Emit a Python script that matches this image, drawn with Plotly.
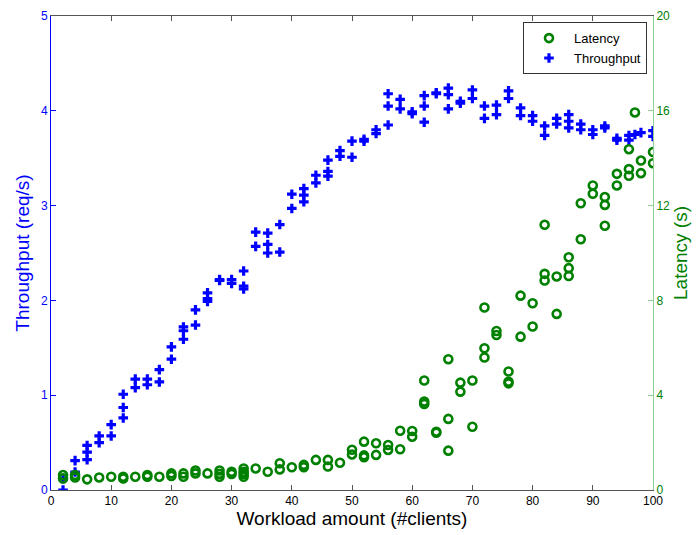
import plotly.graph_objects as go

# Throughput (req/s) per workload amount
thr_x = [2, 2, 4, 4, 6, 6, 6, 8, 8, 10, 10, 12, 12, 12, 14, 14, 16, 16, 18, 18,
         20, 20, 22, 22, 22, 24, 24, 26, 26, 26, 28, 28, 30, 30, 32, 32, 32,
         34, 34, 36, 36, 36, 38, 38, 40, 40, 42, 42, 42, 44, 44, 46, 46, 46,
         48, 48, 50, 50, 52, 52, 54, 54, 56, 56, 56, 58, 58, 60, 60, 62, 62, 62,
         64, 64, 66, 66, 66, 68, 68, 70, 70, 72, 72, 74, 74, 76, 76, 78, 78,
         80, 80, 82, 82, 84, 84, 86, 86, 86, 88, 88, 90, 90, 92, 92, 94, 94,
         96, 96, 97, 98, 100, 100]
thr_y = [0.00, 0.12, 0.31, 0.19, 0.47, 0.40, 0.32, 0.57, 0.50, 0.69, 0.57,
         1.01, 0.87, 0.76, 1.17, 1.08, 1.17, 1.11, 1.27, 1.14, 1.51, 1.38,
         1.72, 1.68, 1.59, 1.90, 1.74, 2.08, 2.02, 1.99, 2.22, 2.21, 2.22, 2.18,
         2.31, 2.15, 2.12, 2.72, 2.57, 2.71, 2.59, 2.50, 2.80, 2.51, 3.12, 2.97,
         3.18, 3.11, 3.04, 3.32, 3.24, 3.48, 3.36, 3.31, 3.58, 3.52, 3.68, 3.51,
         3.70, 3.68, 3.80, 3.76, 4.18, 4.05, 3.85, 4.12, 4.02, 3.99, 3.97,
         4.16, 4.05, 3.88, 4.19, 4.18, 4.24, 4.17, 4.02, 4.10, 4.08, 4.22, 4.13,
         4.05, 3.92, 4.06, 3.96, 4.21, 4.13, 4.03, 3.95, 3.95, 3.89, 3.84, 3.74,
         3.92, 3.86, 3.96, 3.89, 3.82, 3.86, 3.80, 3.80, 3.75, 3.84, 3.82,
         3.71, 3.69, 3.69, 3.74, 3.75, 3.77, 3.79, 3.73]

# Latency (s) per workload amount
lat_x = [2, 2, 4, 4, 6, 8, 10, 12, 12, 14, 16, 16, 18, 20, 20, 22, 22, 24, 24,
         26, 28, 28, 28, 30, 30, 32, 32, 32, 32, 34, 36, 38, 38, 40, 42, 42,
         44, 46, 46, 48, 50, 50, 52, 52, 52, 54, 54, 56, 56, 58, 58, 60, 60,
         62, 62, 62, 64, 64, 66, 66, 66, 68, 68, 70, 70, 72, 72, 72, 74, 74,
         76, 76, 76, 78, 78, 80, 80, 82, 82, 82, 84, 84, 86, 86, 86, 88, 88,
         90, 90, 92, 92, 92, 94, 94, 96, 96, 96, 97, 98, 98, 100, 100]
lat_y = [0.63, 0.49, 0.63, 0.53, 0.45, 0.53, 0.56, 0.56, 0.49, 0.56, 0.63, 0.56,
         0.56, 0.70, 0.59, 0.70, 0.56, 0.82, 0.70, 0.70, 0.82, 0.68, 0.56,
         0.77, 0.68, 0.91, 0.77, 0.68, 0.56, 0.91, 0.77, 1.13, 0.87, 0.96,
         1.06, 0.96, 1.27, 1.27, 0.99, 1.15, 1.70, 1.50, 2.04, 1.46, 1.38,
         1.97, 1.48, 1.90, 1.69, 2.50, 1.72, 2.49, 2.25, 4.62, 3.73, 3.63,
         2.46, 2.42, 5.52, 3.00, 1.66, 4.53, 4.15, 4.62, 2.67, 7.70, 5.98, 5.59,
         6.71, 6.54, 5.00, 4.57, 4.50, 8.20, 6.47, 7.88, 6.90, 11.19, 9.12, 8.84,
         9.01, 7.43, 9.82, 9.36, 9.03, 12.10, 10.58, 12.85, 12.50, 12.36, 12.03,
         11.15, 13.34, 12.85, 14.38, 13.54, 13.26, 15.93, 13.90, 13.37, 14.26,
         13.79]

x_ticks = [0, 10, 20, 30, 40, 50, 60, 70, 80, 90, 100]
thr_ticks = [0, 1, 2, 3, 4, 5]
lat_ticks = [0, 4, 8, 12, 16, 20]

BLUE = "#0000ff"
GREEN = "#008000"
FONT = "Liberation Sans, Arial, sans-serif"

fig = go.Figure()
fig.add_trace(go.Scatter(
    x=lat_x, y=lat_y, mode="markers", name="Latency", yaxis="y2",
    marker=dict(symbol="circle-open", size=8, color=GREEN, line=dict(width=2.6, color=GREEN)),
))
fig.add_trace(go.Scatter(
    x=thr_x, y=thr_y, mode="markers", name="Throughput", yaxis="y",
    marker=dict(symbol="cross", size=8, color=BLUE, line=dict(width=0)),
))

fig.update_layout(
    width=692, height=527,
    margin=dict(l=43, r=47, t=8, b=45, autoexpand=False),
    paper_bgcolor="white", plot_bgcolor="white",
    font=dict(family=FONT, size=12, color="black"),
    showlegend=True,
    legend=dict(
        x=0.99, y=0.987, xanchor="right", yanchor="top",
        bgcolor="white", bordercolor="#333333", borderwidth=1,
        font=dict(family=FONT, size=13, color="black"),
        tracegroupgap=0, itemwidth=40,
    ),
    xaxis=dict(
        range=[0, 100], tickvals=x_ticks, ticks="inside", ticklen=5,
        tickcolor="#555555", showline=True, linecolor="#555555", linewidth=1,
        mirror="ticks", showgrid=False, zeroline=False, automargin=False,
        tickfont=dict(family=FONT, size=12, color="black"),
        title=dict(text="Workload amount (#clients)", standoff=3,
                   font=dict(family=FONT, size=19, color="black")),
    ),
    yaxis=dict(
        range=[0, 5], tickvals=thr_ticks, ticks="inside", ticklen=5,
        tickcolor=BLUE, showline=True, linecolor=BLUE, linewidth=1,
        showgrid=False, zeroline=False, automargin=False,
        tickfont=dict(family=FONT, size=12, color=BLUE),
        title=dict(text="Throughput (req/s)", standoff=6,
                   font=dict(family=FONT, size=19, color=BLUE)),
    ),
    yaxis2=dict(
        range=[0, 20], tickvals=lat_ticks, ticks="inside", ticklen=5,
        tickcolor="#90d090", showline=True, linecolor="#90d090", linewidth=1,
        overlaying="y", side="right", showgrid=False, zeroline=False, automargin=False,
        tickfont=dict(family=FONT, size=12, color=GREEN),
        title=dict(text="Latency (s)", standoff=0,
                   font=dict(family=FONT, size=19, color=GREEN)),
    ),
)

fig.write_html("out.html")
